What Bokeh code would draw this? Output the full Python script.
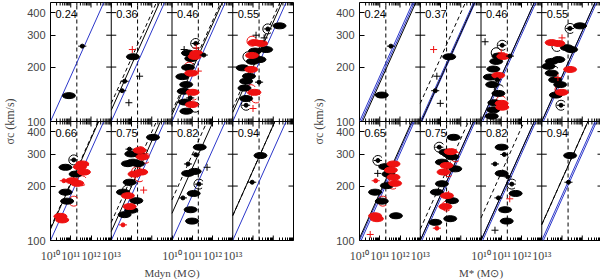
import math
from bokeh.plotting import figure
from bokeh.layouts import row
from bokeh.models import (Range1d, FixedTicker, CustomJSTickFormatter, Span, AllLabels)
from bokeh.embed import file_html
from bokeh.resources import INLINE
from bokeh.core.properties import value

# ---------------- data ----------------
Z_DYN = ["0.24", "0.36", "0.46", "0.55", "0.66", "0.75", "0.82", "0.94"]
Z_STAR = ["0.24", "0.37", "0.46", "0.55", "0.65", "0.75", "0.82", "0.94"]
X_TICK_LABELS = ["10¹⁰", "10¹¹", "10¹²", "10¹³"]
X_LABELLED_PANELS = [0, 2]
Y_TICKS = [100, 200, 300, 400]
Y_TICK_LABELS = ["100", "200", "300", "400"]
SIG_MIN, SIG_MAX = 100.0, 455.0
LOGM_MIN, LOGM_MAX = 10, 13
LOGM_CUT = 11.3          # vertical dashed line
SLOPE = 0.25             # d log(sigma) / d log(M)
ERR_DEX = 0.2            # horizontal error bar half-width (dex)

# (panel, log10 M, sigma_c, colour)  panel 0-3 top row, 4-7 bottom row
DYN_ELLIPSES = [
    (0, 10.91, 139, "k"),
    (1, 11.07, 228, "k"),
    (2, 10.79, 199, "k"), (2, 10.51, 177, "k"), (2, 10.79, 239, "k"), (2, 10.58, 147, "k"),
    (2, 10.64, 128, "k"), (2, 10.71, 114, "k"), (2, 10.95, 223, "k"), (2, 10.70, 160, "k"),
    (2, 11.12, 229, "r"), (2, 10.95, 185, "r"), (2, 11.02, 145, "r"), (2, 10.98, 124, "r"),
    (2, 11.20, 238, "r"),
    (3, 12.31, 338, "k"), (3, 11.65, 250, "k"), (3, 10.49, 198, "k"), (3, 10.99, 215, "k"),
    (3, 11.32, 220, "k"), (3, 10.66, 167, "k"), (3, 10.58, 153, "k"), (3, 10.66, 134, "k"),
    (3, 11.10, 245, "k"), (3, 10.80, 178, "k"),
    (3, 11.07, 273, "r"), (3, 11.40, 270, "r"), (3, 10.91, 194, "r"), (3, 11.07, 145, "r"),
    (3, 10.95, 232, "r"),
    (4, 10.74, 254, "k"), (4, 11.24, 233, "k"), (4, 10.74, 185, "k"), (4, 10.82, 165, "k"),
    (4, 11.57, 265, "r"), (4, 11.65, 239, "r"), (4, 11.07, 214, "r"), (4, 11.32, 207, "r"),
    (4, 10.49, 136, "r"), (4, 10.58, 130, "r"), (4, 11.45, 255, "r"),
    (5, 12.06, 372, "k"), (5, 10.99, 301, "k"), (5, 11.32, 301, "k"), (5, 11.07, 271, "k"),
    (5, 10.82, 266, "k"), (5, 11.32, 266, "k"), (5, 10.91, 210, "k"), (5, 10.58, 185, "k"),
    (5, 11.24, 166, "k"), (5, 10.66, 139, "k"), (5, 10.99, 147, "k"),
    (5, 11.15, 233, "r"), (5, 11.48, 239, "r"), (5, 10.82, 177, "r"), (5, 10.91, 154, "r"),
    (5, 11.40, 315, "r"), (5, 11.55, 290, "r"),
    (6, 11.37, 328, "k"), (6, 10.79, 235, "k"), (6, 11.12, 241, "k"), (6, 11.07, 182, "k"),
    (6, 10.92, 148, "k"), (6, 10.99, 128, "k"),
    (7, 11.37, 295, "k"),
]
DYN_POINTS = [
    (0, 11.57, 261, "k"), (1, 10.54, 148, "k"), (1, 10.66, 167, "k"),
    (2, 11.17, 270, "k"), (2, 11.57, 233, "k"), (2, 10.90, 135, "k"),
    (3, 11.73, 325, "k"), (3, 10.66, 123, "k"), (3, 11.30, 165, "k"),
    (4, 11.15, 279, "k"), (4, 10.66, 214, "r"),
    (5, 10.58, 122, "r"), (5, 10.90, 320, "k"),
    (6, 11.17, 298, "k"), (6, 10.79, 265, "k"), (6, 11.33, 205, "k"), (6, 10.54, 172, "k"),
    (7, 10.96, 210, "k"),
]
DYN_CROSSES = [
    (1, 11.04, 250, "r"), (1, 10.87, 127, "k"), (1, 11.40, 178, "k"),
    (2, 11.20, 255, "r"), (2, 11.30, 190, "r"), (2, 10.60, 250, "k"),
    (3, 11.15, 300, "k"), (3, 11.00, 118, "r"), (3, 11.55, 290, "k"),
    (5, 11.60, 190, "r"), (6, 11.73, 254, "k"),
]
DYN_ARCS = [
    (2, 11.17, 270, "k"), (2, 11.05, 140, "r"), (2, 11.15, 120, "k"), (2, 10.85, 200, "r"),
    (3, 11.73, 325, "k"), (3, 10.66, 123, "k"), (3, 10.75, 228, "k"), (3, 10.90, 150, "r"),
    (3, 11.15, 135, "r"), (3, 10.95, 278, "r"),
    (4, 11.15, 279, "k"), (4, 11.55, 214, "r"), (4, 11.15, 165, "r"), (4, 11.70, 250, "r"),
    (5, 11.45, 310, "r"), (5, 11.70, 285, "r"), (5, 11.60, 300, "k"), (5, 11.40, 225, "r"),
    (5, 11.25, 240, "r"), (5, 10.80, 190, "k"),
    (6, 11.33, 205, "k"),
]
DYN_BLUE_SHIFT = [0.0]
DYN_FIT_SHIFT = [None, -0.25, -0.15, -0.20, -0.25, -0.20, -0.60, -0.55]
DYN_DASH_SHIFT = [None, -0.40, -0.22, -0.30, -0.28, -0.40, -0.90, -0.55]

STAR_ELLIPSES = [
    (0, 11.10, 140, "k"),
    (1, 11.43, 228, "k"),
    (2, 10.61, 195, "k"), (2, 10.44, 176, "k"), (2, 10.86, 230, "k"), (2, 10.66, 127, "k"),
    (2, 10.61, 116, "k"), (2, 10.53, 107, "k"), (2, 10.86, 143, "k"), (2, 10.75, 215, "k"),
    (2, 10.55, 160, "k"),
    (2, 11.10, 229, "r"), (2, 11.02, 126, "r"), (2, 11.05, 120, "r"), (2, 10.85, 180, "r"),
    (3, 11.89, 338, "k"), (3, 11.24, 256, "k"), (3, 11.45, 250, "k"), (3, 10.33, 202, "k"),
    (3, 10.50, 215, "k"), (3, 10.82, 220, "k"), (3, 10.49, 185, "k"), (3, 10.66, 170, "k"),
    (3, 10.91, 160, "k"), (3, 10.70, 140, "k"),
    (3, 10.49, 273, "r"), (3, 10.82, 270, "r"), (3, 11.40, 194, "r"), (3, 10.99, 145, "r"),
    (4, 11.27, 256, "k"), (4, 11.43, 233, "k"), (4, 11.35, 201, "k"), (4, 10.77, 185, "k"),
    (4, 11.10, 165, "k"), (4, 11.80, 137, "k"),
    (4, 11.68, 265, "r"), (4, 11.68, 224, "r"), (4, 11.76, 207, "r"), (4, 10.77, 137, "r"),
    (4, 10.86, 132, "r"), (4, 11.55, 245, "r"),
    (5, 11.65, 372, "k"), (5, 11.24, 308, "k"), (5, 11.57, 290, "k"), (5, 11.07, 271, "k"),
    (5, 11.73, 249, "k"), (5, 11.07, 206, "k"), (5, 10.82, 185, "k"), (5, 11.57, 166, "k"),
    (5, 10.74, 126, "k"), (5, 11.48, 132, "k"), (5, 11.40, 300, "k"),
    (5, 11.15, 239, "r"), (5, 11.30, 260, "r"), (5, 11.32, 177, "r"), (5, 11.24, 154, "r"),
    (5, 11.50, 310, "r"),
    (6, 11.02, 328, "k"), (6, 11.02, 235, "k"), (6, 11.71, 182, "k"), (6, 11.19, 148, "k"),
    (6, 11.27, 128, "k"),
    (7, 11.40, 295, "k"),
]
STAR_POINTS = [
    (0, 11.55, 261, "k"), (1, 10.74, 148, "k"),
    (2, 11.05, 264, "k"), (2, 11.43, 230, "k"), (2, 10.80, 170, "k"),
    (3, 11.40, 327, "k"), (3, 10.95, 123, "k"),
    (4, 10.91, 277, "k"), (4, 10.80, 214, "r"),
    (5, 10.94, 328, "k"), (5, 10.82, 117, "r"),
    (6, 11.15, 299, "k"), (6, 10.69, 265, "k"), (6, 11.52, 205, "k"), (6, 10.86, 172, "k"),
    (6, 11.32, 225, "k"),
    (7, 11.32, 210, "k"),
]
STAR_CROSSES = [
    (1, 10.66, 250, "r"), (1, 10.99, 126, "k"), (1, 10.82, 178, "k"),
    (2, 10.20, 276, "k"), (2, 11.00, 240, "r"),
    (3, 10.80, 175, "r"), (3, 11.00, 290, "r"),
    (4, 10.53, 108, "r"), (4, 10.90, 235, "k"),
    (5, 11.40, 180, "r"),
    (6, 10.69, 114, "k"), (6, 11.42, 170, "r"),
]
STAR_ARCS = [
    (2, 11.05, 264, "k"), (2, 10.90, 150, "k"), (2, 11.00, 130, "r"), (2, 10.75, 240, "k"),
    (3, 11.40, 327, "k"), (3, 10.95, 123, "k"), (3, 10.60, 190, "k"), (3, 10.75, 260, "k"),
    (3, 10.90, 150, "r"),
    (4, 10.91, 277, "k"), (4, 11.65, 205, "r"), (4, 11.15, 165, "r"),
    (5, 10.94, 328, "k"), (5, 11.60, 300, "r"), (5, 11.75, 290, "r"), (5, 11.40, 240, "r"),
    (5, 11.30, 155, "r"),
    (6, 11.52, 205, "k"),
]
STAR_BLUE_SHIFT = [0.0, 0.08]
STAR_FIT_SHIFT = [0.15, 0.05, 0.0, 0.0, -0.05, 0.0, 0.0, -0.35]
STAR_DASH_SHIFT = [None, -0.40, None, None, None, -0.25, -0.50, -0.35]

# ---------------- style ----------------
COLOURS = {"k": "#000000", "r": "#ee1111"}
BLUE = "#2b36c9"
F_ROW = SIG_MAX / SIG_MIN   # multiplicative offset of the top row


def px(panel, logm):
    return 10.0 ** logm * 1000.0 ** (panel % 4)


def py(panel, sig):
    return sig * (F_ROW if panel < 4 else 1.0)


def fit_segment(panel, shift):
    a = LOGM_MIN + shift
    lo = max(LOGM_MIN, a)
    hi = min(LOGM_MAX, a + math.log10(SIG_MAX / SIG_MIN) / SLOPE)
    if hi <= lo:
        return None
    s_lo = SIG_MIN * 10 ** ((lo - a) * SLOPE)
    s_hi = SIG_MIN * 10 ** ((hi - a) * SLOPE)
    return [px(panel, lo), px(panel, hi)], [py(panel, s_lo), py(panel, s_hi)]


def make_group(ellipses, points, crosses, arcs, blue_shift, fit_shift, dash_shift,
               zlabels, xtitle, left_border, right_border):
    x_major = [float(10 ** (LOGM_MIN + k)) for k in range(13)]
    x_minor = [m * float(10 ** (LOGM_MIN + k)) for k in range(12) for m in range(2, 10)]
    x_lab_ticks, x_lab_text = [], []
    for k in range(13):
        for c in X_LABELLED_PANELS:
            j = k - 3 * c
            if 0 <= j < len(X_TICK_LABELS):
                x_lab_ticks.append(x_major[k])
                x_lab_text.append(X_TICK_LABELS[j])
    x_unlab = [t for t in x_major if t not in x_lab_ticks]
    y_major = [float(t) for t in Y_TICKS] + [t * F_ROW for t in Y_TICKS]
    y_lab = Y_TICK_LABELS + Y_TICK_LABELS

    p = figure(frame_width=243, frame_height=238, x_axis_type="log", y_axis_type="log",
               x_range=Range1d(x_major[0], x_major[-1]),
               y_range=Range1d(SIG_MIN, SIG_MAX * F_ROW),
               output_backend="svg", toolbar_location=None,
               min_border_left=left_border, min_border_right=right_border,
               min_border_top=2, min_border_bottom=38)
    p.grid.visible = False
    p.outline_line_color = "black"
    p.background_fill_color = "white"
    p.border_fill_color = "white"

    xfmt = CustomJSTickFormatter(args=dict(tv=x_lab_ticks, tl=x_lab_text), code="""
        let b = 0;
        for (let i = 0; i < tv.length; i++) {
          if (Math.abs(Math.log(tv[i] / tick)) < Math.abs(Math.log(tv[b] / tick))) b = i;
        }
        return tl[b];""")
    yfmt = CustomJSTickFormatter(args=dict(tv=y_major, tl=y_lab), code="""
        let b = 0;
        for (let i = 0; i < tv.length; i++) {
          if (Math.abs(Math.log(tv[i] / tick)) < Math.abs(Math.log(tv[b] / tick))) b = i;
        }
        return tl[b];""")

    bx = p.xaxis[0]
    bx.ticker = FixedTicker(ticks=x_lab_ticks, minor_ticks=x_minor)
    bx.formatter = xfmt
    bx.major_tick_in, bx.major_tick_out = 5, 0
    bx.minor_tick_in, bx.minor_tick_out = 3, 0
    bx.axis_line_color = None
    bx.major_label_policy = AllLabels()
    bx.major_label_text_font = "Liberation Serif"
    bx.major_label_text_font_size = "12px"
    bx.major_label_standoff = 8
    bx.axis_label = xtitle
    bx.axis_label_text_font = "Liberation Serif"
    bx.axis_label_text_font_style = "normal"
    bx.axis_label_text_font_size = "11px"
    bx.axis_label_standoff = 1

    ly = p.yaxis[0]
    ly.ticker = FixedTicker(ticks=y_major, minor_ticks=[])
    ly.formatter = yfmt
    ly.major_tick_in, ly.major_tick_out = 5, 0
    ly.minor_tick_in, ly.minor_tick_out = 0, 0
    ly.axis_line_color = None
    ly.major_label_policy = AllLabels()
    ly.major_label_text_font = "Liberation Sans"
    ly.major_label_text_font_size = "11px"
    ly.major_label_standoff = 5
    ly.axis_label = "σc (km/s)"
    ly.axis_label_text_font = "Liberation Serif"
    ly.axis_label_text_font_style = "normal"
    ly.axis_label_text_font_size = "12px"
    ly.axis_label_standoff = 7

    # panel separators
    for c in range(1, 4):
        p.add_layout(Span(location=x_major[3 * c], dimension="height",
                          line_color="black", line_width=1))
    p.add_layout(Span(location=SIG_MAX, dimension="width", line_color="black", line_width=1))

    # inward ticks on panel edges (markers are clipped to the frame at outer edges)
    vx, vy = [], []
    for c in range(1, 5):
        for t in y_major:
            vx.append(x_major[3 * c])
            vy.append(t)
    p.scatter(vx, vy, marker="dash", size=10, line_color="black", line_width=1)
    for yb in (SIG_MAX, SIG_MAX * F_ROW):
        p.scatter(x_major, [yb] * len(x_major), marker="dash",
                  angle=math.pi / 2, size=10, line_color="black", line_width=1)
        p.scatter(x_minor, [yb] * len(x_minor), marker="dash",
                  angle=math.pi / 2, size=6, line_color="black", line_width=1)
    p.scatter(x_unlab, [SIG_MIN] * len(x_unlab), marker="dash",
              angle=math.pi / 2, size=10, line_color="black", line_width=1)

    # vertical dashed lines
    cut_x = [px(i, LOGM_CUT) for i in range(8)]
    p.segment(x0=cut_x, y0=[py(i, SIG_MIN) for i in range(8)],
              x1=cut_x, y1=[py(i, SIG_MAX) for i in range(8)],
              line_color="black", line_dash="4 3", line_width=1)

    # relation lines
    bxs, bys = [], []
    for i in range(8):
        for s in blue_shift:
            seg = fit_segment(i, s)
            if seg:
                bxs.append(seg[0]); bys.append(seg[1])
    p.multi_line(bxs, bys, line_color=BLUE, line_width=1)
    fxs, fys = [], []
    for i, s in enumerate(fit_shift):
        if s is not None:
            seg = fit_segment(i, s)
            if seg:
                fxs.append(seg[0]); fys.append(seg[1])
    p.multi_line(fxs, fys, line_color="black", line_width=1)
    dxs, dys = [], []
    for i, s in enumerate(dash_shift):
        if s is not None:
            seg = fit_segment(i, s)
            if seg:
                dxs.append(seg[0]); dys.append(seg[1])
    p.multi_line(dxs, dys, line_color="black", line_width=1, line_dash="4 3")

    # curved arrows
    p.arc(x=[px(a[0], a[1]) for a in arcs], y=[py(a[0], a[2]) for a in arcs],
          radius=5, radius_units="screen", start_angle=0.6, end_angle=5.4,
          line_color=[COLOURS[a[3]] for a in arcs], line_width=1)

    # ellipses
    p.ellipse(x=[px(e[0], e[1]) for e in ellipses], y=[py(e[0], e[2]) for e in ellipses],
              width=13, height=6, width_units="screen", height_units="screen",
              fill_color=[COLOURS[e[3]] for e in ellipses],
              line_color=[COLOURS[e[3]] for e in ellipses])

    # points with horizontal error bars
    ex = [px(q[0], q[1]) for q in points]
    ey = [py(q[0], q[2]) for q in points]
    pc = [COLOURS[q[3]] for q in points]
    p.segment(x0=[px(q[0], q[1] - ERR_DEX) for q in points], y0=ey,
              x1=[px(q[0], q[1] + ERR_DEX) for q in points], y1=ey,
              line_color=pc, line_width=1)
    p.scatter(ex, ey, marker="circle", size=4, fill_color=pc, line_color=pc)

    # crosses
    p.scatter([px(q[0], q[1]) for q in crosses], [py(q[0], q[2]) for q in crosses],
              marker="cross", size=7, line_color=[COLOURS[q[3]] for q in crosses],
              line_width=1)

    # redshift labels
    p.text(x=[px(i, LOGM_MIN) for i in range(8)], y=[py(i, SIG_MAX) for i in range(8)],
           text=zlabels, x_offset=5, y_offset=7, text_baseline="top", text_align="left",
           text_font=value("Liberation Sans"), text_font_size="11px", text_color="black")
    return p


p1 = make_group(DYN_ELLIPSES, DYN_POINTS, DYN_CROSSES, DYN_ARCS, DYN_BLUE_SHIFT,
                DYN_FIT_SHIFT, DYN_DASH_SHIFT, Z_DYN, "Mdyn (M⊙)", 45, 1)
p2 = make_group(STAR_ELLIPSES, STAR_POINTS, STAR_CROSSES, STAR_ARCS, STAR_BLUE_SHIFT,
                STAR_FIT_SHIFT, STAR_DASH_SHIFT, Z_STAR, "M* (M⊙)", 65, 2)

layout = row(p1, p2, spacing=0)
open("out.html", "w").write(file_html(layout, INLINE))
